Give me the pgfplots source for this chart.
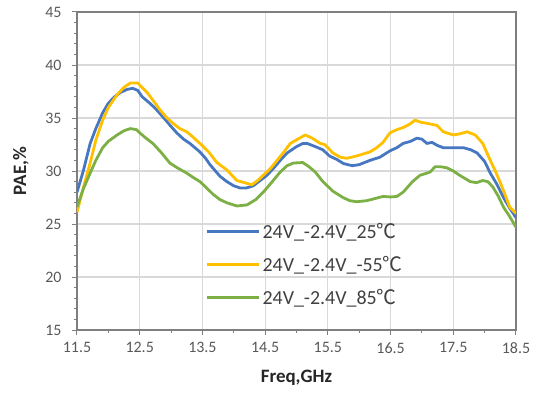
\documentclass[border=0pt]{standalone}
\usepackage{fontspec}
\setmainfont{Carlito}
\newfontfamily\cjk{Noto Sans CJK SC}
\usepackage{pgfplots}
\pgfplotsset{compat=1.18}
\definecolor{cblue}{HTML}{4677C0}
\definecolor{cyel}{HTML}{FFC000}
\definecolor{cgreen}{HTML}{7CB045}
\definecolor{gridc}{HTML}{D9D9D9}
\definecolor{axc}{HTML}{7F7F7F}
\definecolor{txt}{HTML}{595959}
\begin{document}
\begin{tikzpicture}
\useasboundingbox (-77bp,-64bp) rectangle (462bp,330bp);
\begin{axis}[
  scale only axis, width=439bp, height=318bp,
  xmin=11.5, xmax=18.5, ymin=15, ymax=45,
  xtick={11.5,12.5,...,18.5}, ytick={15,20,...,45},
  minor x tick num=1, minor y tick num=4,
  xticklabels={11.5,12.5,13.5,14.5,15.5,16.5,17.5,18.5},
  tick align=outside, major tick length=5bp, minor tick length=3bp,
  tick style={axc, line width=1bp},
  grid=major, major grid style={gridc, line width=1.2bp},
  axis line style={axc, line width=1.2bp},
  tick pos=left,
  ticklabel style={font=\fontsize{16}{16}\selectfont, text=txt},
  xticklabel style={yshift=-4bp},
  yticklabel style={xshift=-7bp},
  /pgf/number format/assume math mode=true,
  /pgf/number format/.cd, fixed, fixed zerofill=false, /pgfplots/.cd,
  xlabel={Freq,GHz}, ylabel={PAE,\%},
  label style={font=\bfseries\fontsize{19}{19}\selectfont, text=black!85},
  xlabel style={at={(axis description cs:0.5,-0.151)}, anchor=center},
  ylabel style={at={(axis description cs:-0.128,0.5)}, anchor=center, rotate=0},
  legend style={draw=none, fill=none, at={(axis cs:13.55,25.3)}, anchor=north west,
    font=\fontsize{20}{20}\selectfont, text=black!75, row sep=12.5bp,
    inner sep=0pt},
  legend cell align=left,
  legend image code/.code={\draw[#1, line width=2.8bp] (0bp,0bp) -- (52bp,0bp);},
  every axis plot/.append style={line width=2.8bp, line join=round},
]
\addplot[cblue] coordinates {
(11.5,28.0) (11.6,30.0) (11.71,32.6) (11.8,34.0) (11.91,35.5) (12.0,36.4) (12.1,37.0)
(12.19,37.4) (12.3,37.7) (12.39,37.8) (12.47,37.6) (12.54,37.0) (12.66,36.4) (12.75,35.9)
(12.87,35.1) (13.0,34.2) (13.09,33.6) (13.2,33.0) (13.3,32.6) (13.46,31.8) (13.55,31.2)
(13.62,30.6) (13.78,29.5) (13.89,29.0) (14.0,28.6) (14.1,28.4) (14.2,28.4) (14.31,28.6)
(14.42,29.1) (14.53,29.6) (14.64,30.3) (14.74,31.0) (14.85,31.7) (15.0,32.3) (15.1,32.6)
(15.17,32.6) (15.3,32.3) (15.42,32.0) (15.53,31.4) (15.64,31.1) (15.75,30.7) (15.89,30.5)
(16.0,30.6) (16.17,31.0) (16.33,31.3) (16.49,31.9) (16.6,32.2) (16.7,32.6) (16.82,32.8)
(16.92,33.1) (17.0,33.0) (17.08,32.6) (17.16,32.7) (17.25,32.4) (17.34,32.2) (17.5,32.2)
(17.66,32.2) (17.78,32.0) (17.88,31.7) (18.0,30.9) (18.09,29.8) (18.2,28.7) (18.3,27.5)
(18.4,26.5) (18.5,25.6)
};
\addlegendentry{24V\_-2.4V\_25{\cjk ℃}}
\addplot[cyel] coordinates {
(11.5,26.1) (11.6,28.4) (11.71,30.75) (11.8,32.9) (11.91,34.8) (12.0,36.0) (12.14,37.2)
(12.25,37.9) (12.35,38.3) (12.47,38.3) (12.55,37.8) (12.62,37.4) (12.72,36.6) (12.82,35.8)
(12.92,35.1) (13.03,34.5) (13.14,34.0) (13.25,33.7) (13.35,33.2) (13.46,32.6) (13.6,31.8)
(13.73,30.8) (13.89,30.1) (14.05,29.1) (14.17,28.9) (14.29,28.7) (14.38,29.1) (14.47,29.6)
(14.58,30.2) (14.69,31.0) (14.8,31.8) (14.9,32.6) (15.02,33.0) (15.14,33.4) (15.25,33.1)
(15.38,32.6) (15.45,32.5) (15.58,31.7) (15.7,31.3) (15.8,31.2) (15.95,31.4) (16.06,31.6)
(16.17,31.8) (16.28,32.2) (16.38,32.7) (16.49,33.6) (16.6,33.9) (16.7,34.1) (16.8,34.4)
(16.89,34.8) (16.98,34.6) (17.08,34.5) (17.24,34.3) (17.34,33.7) (17.5,33.4) (17.6,33.5)
(17.72,33.7) (17.85,33.4) (17.97,32.6) (18.09,31.0) (18.17,30.0) (18.25,28.9) (18.33,27.7)
(18.4,26.6) (18.5,26.0)
};
\addlegendentry{24V\_-2.4V\_-55{\cjk ℃}}
\addplot[cgreen] coordinates {
(11.5,26.6) (11.6,28.3) (11.71,29.8) (11.8,31.0) (11.91,32.2) (12.0,32.8) (12.14,33.4)
(12.25,33.8) (12.35,34.0) (12.45,33.9) (12.5,33.6) (12.6,33.1) (12.71,32.6) (12.85,31.7)
(12.98,30.75) (13.1,30.3) (13.25,29.8) (13.35,29.4) (13.46,29.0) (13.55,28.5) (13.67,27.8)
(13.78,27.3) (13.89,27.0) (14.05,26.7) (14.21,26.8) (14.35,27.3) (14.47,28.0) (14.6,28.9)
(14.74,29.9) (14.85,30.5) (14.95,30.75) (15.1,30.8) (15.2,30.4) (15.3,29.9) (15.42,29.0)
(15.58,28.1) (15.74,27.5) (15.85,27.2) (15.96,27.1) (16.12,27.2) (16.25,27.4) (16.38,27.6)
(16.5,27.55) (16.6,27.6) (16.7,28.0) (16.85,29.0) (16.97,29.6) (17.08,29.8) (17.13,29.9)
(17.21,30.4) (17.3,30.4) (17.4,30.3) (17.5,30.0) (17.6,29.6) (17.77,29.0) (17.87,28.9)
(17.97,29.1) (18.05,29.0) (18.13,28.5) (18.22,27.6) (18.3,26.6) (18.4,25.7) (18.5,24.7)
};
\addlegendentry{24V\_-2.4V\_85{\cjk ℃}}
\end{axis}
\end{tikzpicture}
\end{document}
